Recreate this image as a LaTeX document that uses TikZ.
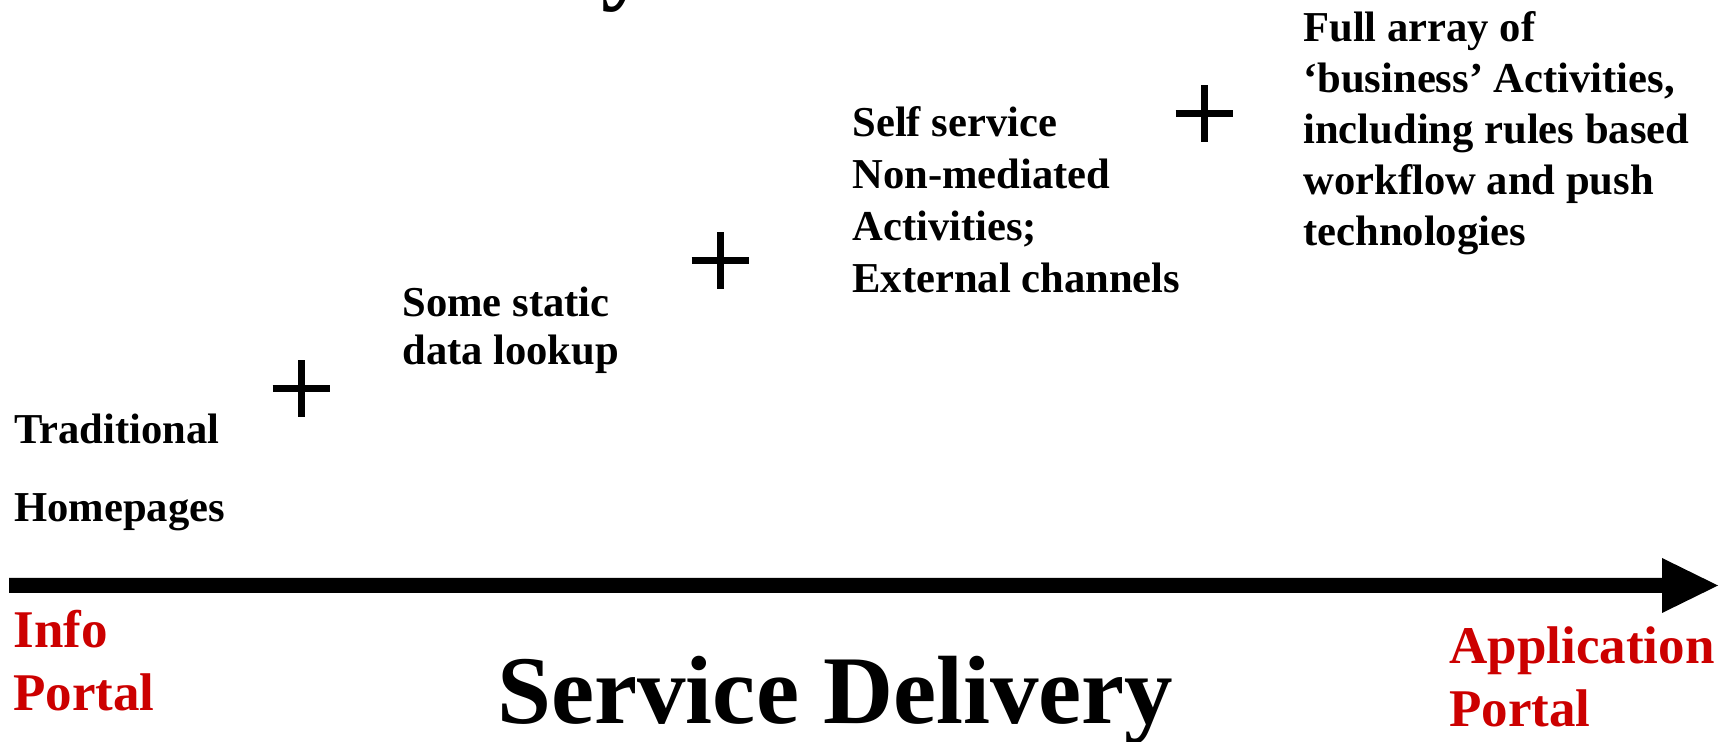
\documentclass[tikz,border=0pt]{standalone}
\usepackage{fontspec}
\setmainfont{Liberation Serif}
\definecolor{portalred}{RGB}{204,0,0}
\newcommand{\txtblock}[3]{{\fontsize{#1}{#2}\selectfont\begin{tabular}[t]{@{}l@{}}#3\end{tabular}}}
\tikzset{
  txt/.style={inner sep=0pt, anchor=base west, font=\bfseries},
  plusmark/.style={line width=3.5pt},
}
\begin{document}
\begin{tikzpicture}[x=0.5pt,y=-0.5pt]
\clip (0,0) rectangle (1735,742);
% fragment of cut-off title
\node[txt] (ttl) at (601,-8) {\fontsize{48.5pt}{58pt}\selectfont y};
% text blocks
\node[txt] (trad) at (14,444) {\txtblock{21.3pt}{39pt}{Traditional\\Homepages}};
\node[txt] (static) at (402,317) {\txtblock{21.3pt}{24pt}{Some static\\data lookup}};
\node[txt] (self) at (852,137) {\txtblock{21.3pt}{26pt}{Self service\\Non-mediated\\Activities;\\External channels}};
\node[txt] (full) at (1303,42) {\txtblock{21.3pt}{25.5pt}{Full array of\\‘business’ Activities,\\including rules based\\workflow and push\\technologies}};
\node[txt, text=portalred] (info) at (13,647) {\txtblock{26.5pt}{32pt}{Info\\Portal}};
\node[txt, text=portalred] (app) at (1449,663) {\txtblock{26.5pt}{32pt}{Application\\Portal}};
\node[txt] (sd) at (497,723) {\fontsize{48.5pt}{58pt}\selectfont Service Delivery};
% plus signs
\draw[plusmark] (272.5,389) -- (329.5,389) (301,360.5) -- (301,417.5);
\draw[plusmark] (691.5,261) -- (748.5,261) (720,232.5) -- (720,289.5);
\draw[plusmark] (1175.5,114) -- (1232.5,114) (1204,85.5) -- (1204,142.5);
% axis arrow
\fill (9,578) -- (1662,578) -- (1662,558) -- (1718,585.5) -- (1662,613) -- (1662,593) -- (9,593) -- cycle;
\end{tikzpicture}
\end{document}
